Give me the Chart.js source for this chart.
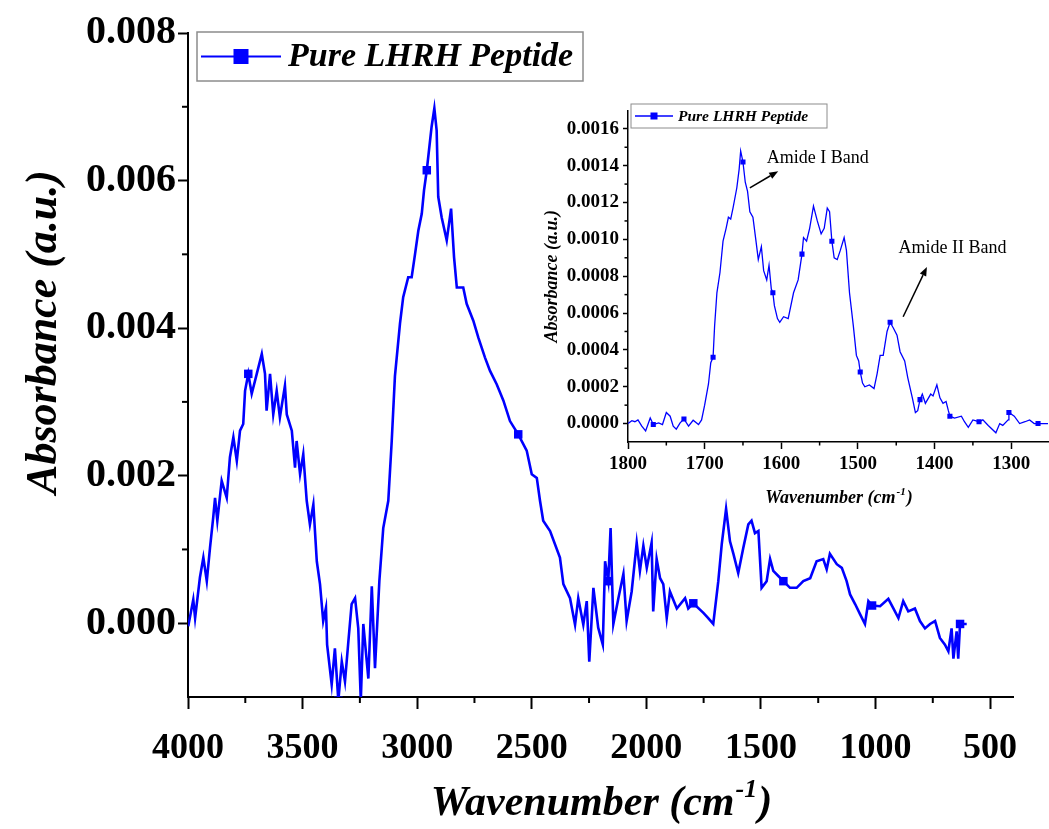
<!DOCTYPE html>
<html>
<head>
<meta charset="utf-8">
<script src="https://cdn.jsdelivr.net/npm/chart.js@4.4.0/dist/chart.umd.min.js"></script>
<style>
  html, body { margin: 0; padding: 0; background: #fff; }
  #wrap { position: relative; width: 1049px; height: 829px; }
  #mainChart { position: absolute; left: 0; top: 0; }
  #insetChart { position: absolute; left: 540px; top: 95px; }
</style>
</head>
<body>
<div id="wrap">
  <canvas id="mainChart" width="1049" height="829"></canvas>
  <canvas id="insetChart" width="509" height="420"></canvas>
</div>
<script>
// ---- main spectrum ----
const mainWn = [3999, 3977, 3969, 3948, 3933, 3918, 3904, 3890, 3882, 3872, 3853, 3831, 3817, 3802, 3787, 3773,
  3759, 3751, 3737, 3722, 3700, 3678, 3664, 3657, 3642, 3628, 3613, 3599, 3577, 3569, 3547, 3533, 3526, 3511,
  3497, 3482, 3468, 3453, 3438, 3424, 3410, 3398, 3393, 3373, 3359, 3344, 3329, 3315, 3300, 3286, 3271, 3257,
  3246, 3235, 3213, 3198, 3184, 3165, 3148, 3126, 3111, 3097, 3075, 3061, 3039, 3024, 3009, 2995, 2980, 2970,
  2958, 2937, 2925, 2915, 2908, 2893, 2871, 2852, 2839, 2827, 2799, 2784, 2755, 2733, 2704, 2682, 2653, 2624,
  2595, 2559, 2522, 2500, 2478, 2464, 2450, 2420, 2377, 2362, 2333, 2311, 2297, 2275, 2260, 2249, 2231, 2210,
  2190, 2180, 2166, 2156, 2144, 2122, 2100, 2086, 2064, 2042, 2028, 2013, 1998, 1977, 1970, 1955, 1940, 1926,
  1911, 1897, 1867, 1831, 1817, 1795, 1751, 1730, 1708, 1686, 1671, 1652, 1635, 1620, 1599, 1577, 1555, 1541,
  1526, 1511, 1497, 1475, 1460, 1446, 1424, 1402, 1373, 1344, 1315, 1285, 1257, 1228, 1213, 1199, 1169, 1147,
  1126, 1111, 1089, 1067, 1046, 1031, 1015, 980, 944, 922, 900, 879, 857, 828, 806, 784, 762, 740, 719, 697,
  682, 668, 660, 646, 639, 631, 602];
const mainAbs = [-0.00004, 0.00032, 0.00007, 0.00062, 0.00089, 0.00057, 0.00102, 0.00143, 0.00170, 0.00139,
  0.00193, 0.00170, 0.00225, 0.00252, 0.00220, 0.00261, 0.00270, 0.00315, 0.00338, 0.00311, 0.00338, 0.00365,
  0.00338, 0.00288, 0.00338, 0.00283, 0.00315, 0.00279, 0.00322, 0.00283, 0.00261, 0.00211, 0.00247, 0.00202,
  0.00229, 0.00166, 0.00134, 0.00161, 0.00084, 0.00053, 0.00003, 0.00021, -0.00029, -0.00083, -0.00034, -0.00105,
  -0.00052, -0.00079, -0.00024, 0.00026, 0.00034, -0.00007, -0.00105, -0.00001, -0.00075, 0.00050, -0.00061,
  0.00057, 0.00129, 0.00166, 0.00247, 0.00335, 0.00406, 0.00442, 0.00469, 0.00469, 0.00501, 0.00532, 0.00555,
  0.00587, 0.00614, 0.00673, 0.00698, 0.00668, 0.00578, 0.00550, 0.00519, 0.00562, 0.00496, 0.00455, 0.00455,
  0.00433, 0.00410, 0.00387, 0.00360, 0.00342, 0.00324, 0.00302, 0.00274, 0.00256, 0.00234, 0.00202, 0.00197,
  0.00166, 0.00139, 0.00125, 0.00089, 0.00053, 0.00034, -0.00002, 0.00034, -0.00002, 0.00030, -0.00052, 0.00048,
  -0.00006, -0.00029, 0.00084, 0.00057, 0.00129, -0.00001, 0.00034, 0.00067, 0.00003, 0.00043, 0.00109, 0.00071,
  0.00105, 0.00075, 0.00109, 0.00016, 0.00087, 0.00061, 0.00053, 0.00007, 0.00043, 0.00020, 0.00034, 0.00020,
  0.00027, 0.00014, 0.00007, -0.00001, 0.00057, 0.00107, 0.00155, 0.00111, 0.00094, 0.00068, 0.00102, 0.00134,
  0.00139, 0.00122, 0.00125, 0.00048, 0.00057, 0.00087, 0.00071, 0.00064, 0.00057, 0.00048, 0.00048, 0.00057,
  0.00061, 0.00084, 0.00087, 0.00073, 0.00094, 0.00080, 0.00075, 0.00057, 0.00039, 0.00026, 0.00012, -0.00001,
  0.00030, 0.00024, 0.00023, 0.00033, 0.00020, 0.00007, 0.00030, 0.00016, 0.00020, 0.00003, -0.00007, -0.00001,
  0.00003, -0.00020, -0.00029, -0.00038, -0.00007, -0.00048, -0.00011, -0.00048, -0.00001, -0.00001];
const mainMarkerWn = [3737, 3344, 2958, 2559, 2166, 1795, 1402, 1015, 631];
const mainXTicks = [4000, 3500, 3000, 2500, 2000, 1500, 1000, 500];
const mainXMinor = [3750, 3250, 2750, 2250, 1750, 1250, 750];
const mainYTicks = [0, 0.002, 0.004, 0.006, 0.008];
const mainYMinor = [0.001, 0.003, 0.005, 0.007];

// ---- inset: 1800-1250 cm-1 ----
const insetWn = [1800, 1795, 1791, 1787, 1782, 1777, 1771, 1767, 1760, 1755, 1750, 1745, 1741, 1737, 1732, 1727,
  1721, 1715, 1708, 1704, 1700, 1695, 1692, 1689, 1687, 1684, 1680, 1676, 1672, 1669, 1666, 1663, 1658, 1655,
  1653, 1650, 1647, 1644, 1641, 1637, 1633, 1630, 1626, 1623, 1619, 1616, 1613, 1611, 1609, 1605, 1602, 1597,
  1591, 1584, 1578, 1573, 1571, 1567, 1563, 1558, 1553, 1548, 1544, 1540, 1537, 1534, 1531, 1527, 1523, 1518,
  1515, 1511, 1506, 1502, 1499, 1497, 1494, 1491, 1485, 1479, 1475, 1471, 1467, 1462, 1458, 1454, 1449, 1445,
  1439, 1435, 1429, 1425, 1422, 1419, 1416, 1412, 1405, 1402, 1397, 1393, 1389, 1385, 1382, 1380, 1374, 1365,
  1361, 1356, 1350, 1342, 1337, 1330, 1320, 1315, 1311, 1304, 1303, 1296, 1289, 1282, 1276, 1270, 1265, 1252];
const insetAbs = [0.0, 0.000016, 0.00001, 0.00002, -0.000014, -0.00004, 0.00003, -0.000005, 0.000004, -0.000005,
  0.00006, 0.00004, -0.000014, -0.00003, 0.000004, 0.000025, -0.000014, 0.000018, -0.000005, 0.00002, 0.0001,
  0.000215, 0.00033, 0.00036, 0.00053, 0.00071, 0.00082, 0.00099, 0.00106, 0.00112, 0.00111, 0.00117, 0.00128,
  0.00138, 0.00148, 0.00142, 0.00131, 0.00126, 0.00115, 0.00112, 0.00099, 0.00089, 0.00096, 0.00083, 0.00078,
  0.00086, 0.00073, 0.00071, 0.00064, 0.00057, 0.00055, 0.00058, 0.00057, 0.00071, 0.00078, 0.00092, 0.00101,
  0.00099, 0.00106, 0.00118, 0.0011, 0.00103, 0.00106, 0.00117, 0.00115, 0.00099, 0.0009, 0.00089, 0.00094,
  0.00101, 0.00094, 0.00071, 0.00053, 0.00037, 0.00034, 0.00028, 0.00022, 0.0002, 0.00021, 0.00019, 0.00027,
  0.00037, 0.00037, 0.0005, 0.00055, 0.00052, 0.00048, 0.00039, 0.00034, 0.00025, 0.00014, 0.00006, 0.00007,
  0.00013, 0.00016, 0.00011, 0.00016, 0.00015, 0.00021, 0.00014, 0.00011, 0.00012, 0.00007, 0.00004, 0.00003,
  0.00004, 0.00001, -0.00002, 0.00002, 0.00001, 0.00002, -0.00001, -0.00005, 0.0, -0.00001, 0.00002, 0.00006,
  0.00004, 0.0, 0.00001, 0.00002, 0.0, 0.0, 0.0];
const insetMarkerWn = [1767, 1727, 1689, 1650, 1611, 1573, 1534, 1497, 1458, 1419, 1380, 1342, 1303, 1265];
const insetXTicks = [1800, 1700, 1600, 1500, 1400, 1300];
const insetXMinor = [1750, 1650, 1550, 1450, 1350];
const insetYTicks = [0, 0.0002, 0.0004, 0.0006, 0.0008, 0.0010, 0.0012, 0.0014, 0.0016];
const insetYMinor = [0.0001, 0.0003, 0.0005, 0.0007, 0.0009, 0.0011, 0.0013, 0.0015];

const seriesName = 'Pure LHRH Peptide';
const BLUE = '#0000ff';
const SERIF = '"Liberation Serif", "Times New Roman", serif';

// minor ticks, legend box, axis titles and arrows
const decor = {
  id: 'decor',
  afterDraw(chart, args, o) {
    const ctx = chart.ctx, xs = chart.scales.x, ys = chart.scales.y, a = chart.chartArea;
    ctx.save();
    ctx.strokeStyle = '#000';
    ctx.lineWidth = o.tickWidth;
    o.xMinor.forEach(v => {
      const p = xs.getPixelForValue(v);
      ctx.beginPath(); ctx.moveTo(p, a.bottom); ctx.lineTo(p, a.bottom + o.minorLen); ctx.stroke();
    });
    o.yMinor.forEach(v => {
      const p = ys.getPixelForValue(v);
      ctx.beginPath(); ctx.moveTo(a.left, p); ctx.lineTo(a.left - o.minorLen, p); ctx.stroke();
    });

    // legend
    const L = o.legend;
    ctx.strokeStyle = '#8c8c8c';
    ctx.lineWidth = L.border;
    ctx.strokeRect(L.x, L.y, L.w, L.h);
    const cy = L.y + L.h / 2;
    ctx.strokeStyle = BLUE; ctx.lineWidth = L.lw;
    ctx.beginPath(); ctx.moveTo(L.x + 4, cy); ctx.lineTo(L.x + L.sym, cy); ctx.stroke();
    ctx.fillStyle = BLUE;
    const mx = L.x + 4 + (L.sym - 4) / 2;
    ctx.fillRect(mx - L.box / 2, cy - L.box / 2, L.box, L.box);
    ctx.fillStyle = '#000';
    ctx.font = `italic bold ${L.font}px ${SERIF}`;
    ctx.textBaseline = 'middle'; ctx.textAlign = 'left';
    ctx.fillText(seriesName, L.x + L.sym + L.gap, cy + 1);

    // x title with superscript
    const T = o.titles;
    const big = `italic bold ${T.size}px ${SERIF}`, small = `italic bold ${Math.round(T.size * 0.62)}px ${SERIF}`;
    ctx.font = big; const w1 = ctx.measureText('Wavenumber (cm').width; const w3 = ctx.measureText(')').width;
    ctx.font = small; const w2 = ctx.measureText('-1').width;
    let tx = (a.left + a.right) / 2 - (w1 + w2 + w3) / 2;
    ctx.textBaseline = 'alphabetic';
    ctx.font = big; ctx.fillText('Wavenumber (cm', tx, T.xBase);
    ctx.font = small; ctx.fillText('-1', tx + w1 + 1, T.xBase - T.size * 0.42);
    ctx.font = big; ctx.fillText(')', tx + w1 + w2 + 2, T.xBase);

    // y title
    const yBig = `italic bold ${T.ySize}px ${SERIF}`;
    ctx.save();
    ctx.translate(T.yX, (a.top + a.bottom) / 2 + T.yShift);
    ctx.rotate(-Math.PI / 2);
    ctx.font = yBig; ctx.textAlign = 'center'; ctx.textBaseline = 'middle';
    ctx.fillText('Absorbance (a.u.)', 0, 0);
    ctx.restore();

    // annotations with arrows
    (o.notes || []).forEach(n => {
      ctx.fillStyle = '#000';
      ctx.font = `${n.size}px ${SERIF}`;
      ctx.textAlign = 'left'; ctx.textBaseline = 'middle';
      ctx.fillText(n.text, xs.getPixelForValue(n.tx), ys.getPixelForValue(n.ty));
      const x0 = xs.getPixelForValue(n.from[0]), y0 = ys.getPixelForValue(n.from[1]);
      const x1 = xs.getPixelForValue(n.to[0]), y1 = ys.getPixelForValue(n.to[1]);
      const ang = Math.atan2(y1 - y0, x1 - x0), hl = 9, hw = 3.5;
      const bx = x1 - hl * Math.cos(ang), by = y1 - hl * Math.sin(ang);
      ctx.strokeStyle = '#000'; ctx.lineWidth = 1.5;
      ctx.beginPath(); ctx.moveTo(x0, y0); ctx.lineTo(bx, by); ctx.stroke();
      ctx.beginPath();
      ctx.moveTo(x1, y1);
      ctx.lineTo(bx + hw * Math.sin(ang), by - hw * Math.cos(ang));
      ctx.lineTo(bx - hw * Math.sin(ang), by + hw * Math.cos(ang));
      ctx.closePath(); ctx.fill();
    });
    ctx.restore();
  }
};

function axis(opts) {
  return {
    type: 'linear',
    reverse: !!opts.reverse,
    min: opts.min, max: opts.max,
    afterBuildTicks: s => { s.ticks = opts.ticks.map(v => ({ value: v })); },
    afterFit: s => { if (opts.height) s.height = opts.height; if (opts.width) s.width = opts.width; },
    border: { display: true, color: '#000', width: opts.lw },
    grid: { drawOnChartArea: false, drawTicks: true, tickLength: opts.tickLen, tickWidth: opts.lw, tickColor: '#000' },
    ticks: {
      color: '#000', autoSkip: false, maxRotation: 0, padding: opts.pad,
      font: { family: SERIF, size: opts.font, weight: 'bold' },
      callback: opts.fmt
    }
  };
}

function lineData(wn, ab) { return wn.map((x, i) => ({ x: x, y: ab[i] })); }

new Chart(document.getElementById('mainChart'), {
  type: 'line',
  data: {
    datasets: [{
      label: seriesName,
      data: lineData(mainWn, mainAbs),
      borderColor: BLUE, borderWidth: 2.6, tension: 0,
      pointStyle: 'rect',
      pointRadius: c => mainMarkerWn.includes(mainWn[c.dataIndex]) ? 6 : 0,
      pointBackgroundColor: BLUE, pointBorderWidth: 0, pointHoverRadius: 0
    }]
  },
  options: {
    responsive: false, animation: false, events: [],
    layout: { padding: { top: 33, right: 36, left: 0, bottom: 0 } },
    plugins: {
      legend: { display: false }, tooltip: { enabled: false },
      decor: {
        tickWidth: 2, minorLen: 6, xMinor: mainXMinor, yMinor: mainYMinor,
        legend: { x: 197, y: 32, w: 386, h: 49, border: 1.5, lw: 2, sym: 84, box: 15, gap: 7, font: 34 },
        titles: { size: 42, ySize: 44, xBase: 815, yX: 45, yShift: -33 }
      }
    },
    scales: {
      x: axis({ reverse: true, min: 400, max: 4000, ticks: mainXTicks, height: 132, lw: 2, tickLen: 12, pad: 18, font: 36, fmt: v => String(v) }),
      y: axis({ min: -0.001, max: 0.008, ticks: mainYTicks, width: 188, lw: 2, tickLen: 10, pad: 2, font: 40, fmt: v => v.toFixed(3) })
    }
  },
  plugins: [decor]
});

new Chart(document.getElementById('insetChart'), {
  type: 'line',
  data: {
    datasets: [{
      label: seriesName,
      data: lineData(insetWn, insetAbs),
      borderColor: BLUE, borderWidth: 1.3, tension: 0,
      pointStyle: 'rect',
      pointRadius: c => insetMarkerWn.includes(insetWn[c.dataIndex]) ? 3.6 : 0,
      pointBackgroundColor: BLUE, pointBorderWidth: 0, pointHoverRadius: 0
    }]
  },
  options: {
    responsive: false, animation: false, events: [],
    layout: { padding: { top: 9, right: 1, left: 0, bottom: 0 } },
    plugins: {
      legend: { display: false }, tooltip: { enabled: false },
      decor: {
        tickWidth: 1.5, minorLen: 3.5, xMinor: insetXMinor, yMinor: insetYMinor,
        legend: { x: 91, y: 9, w: 196, h: 24, border: 1, lw: 1.3, sym: 42, box: 7, gap: 5, font: 15.5 },
        titles: { size: 18, ySize: 18, xBase: 408, yX: 12, yShift: 0 },
        notes: [
          { text: 'Amide I Band', size: 18, tx: 1619, ty: 0.00144, from: [1641, 0.00128], to: [1604, 0.00137] },
          { text: 'Amide II Band', size: 18, tx: 1447, ty: 0.00095, from: [1441, 0.00058], to: [1410, 0.00085] }
        ]
      }
    },
    scales: {
      x: axis({ reverse: true, min: 1252, max: 1800, ticks: insetXTicks, height: 73, lw: 1.5, tickLen: 7, pad: 4, font: 19, fmt: v => String(v) }),
      y: axis({ min: -0.0001, max: 0.0017, ticks: insetYTicks, width: 88, lw: 1.5, tickLen: 5, pad: 4, font: 19, fmt: v => v.toFixed(4) })
    }
  },
  plugins: [decor]
});
</script>
</body>
</html>
